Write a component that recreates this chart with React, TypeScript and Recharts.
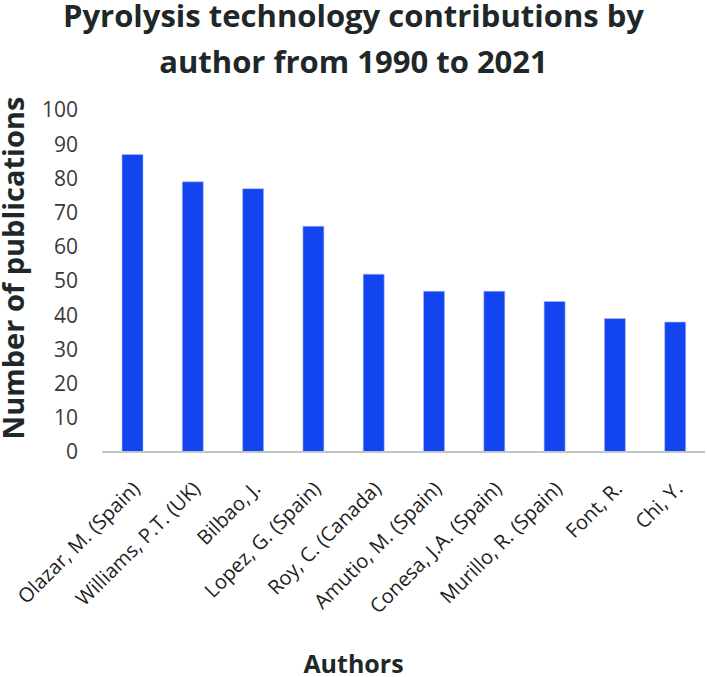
import { Bar, BarChart, XAxis, YAxis } from "recharts";

const authors = [
  "Olazar, M. (Spain)",
  "Williams, P.T. (UK)",
  "Bilbao, J.",
  "Lopez, G. (Spain)",
  "Roy, C. (Canada)",
  "Amutio, M. (Spain)",
  "Conesa, J.A. (Spain)",
  "Murillo, R. (Spain)",
  "Font, R.",
  "Chi, Y.",
];
const publications = [87, 79, 77, 66, 52, 47, 47, 44, 39, 38];
const yTicks = [0, 10, 20, 30, 40, 50, 60, 70, 80, 90, 100];

const FONT = "'Open Sans', sans-serif";

function AuthorTick({ x, y, payload }: any) {
  return (
    <g transform={`translate(${x + 9},${y + 30})`}>
      <text textAnchor="end" transform="rotate(-45)" fill="#222" fontSize={20} fontFamily={FONT}>
        {payload.value}
      </text>
    </g>
  );
}

export default function App() {
  const data = authors.map((author, i) => ({ author, count: publications[i] }));
  const title = { position: "absolute" as const, left: 0, width: 707, textAlign: "center" as const, fontWeight: 700, fontSize: 31, lineHeight: "30px" };
  return (
    <div style={{ position: "absolute", left: 0, top: 0, width: 707, height: 677, background: "#fff", fontFamily: FONT, color: "#1f2828", overflow: "hidden" }}>
      <div style={{ ...title, top: 0 }}>Pyrolysis technology contributions by</div>
      <div style={{ ...title, top: 46 }}>author from 1990 to 2021</div>
      <div style={{ position: "absolute", left: 12.5, top: 268, transform: "translate(-50%, -50%) rotate(-90deg)", whiteSpace: "nowrap", fontWeight: 700, fontSize: 29, lineHeight: "24px" }}>
        Number of publications
      </div>
      <div style={{ position: "absolute", left: 0, top: 652, width: 707, textAlign: "center", fontWeight: 700, fontSize: 25, lineHeight: "22px" }}>Authors</div>
      <BarChart width={707} height={677} data={data} margin={{ top: 110, right: 2, bottom: 0, left: 40 }}>
        <YAxis
          domain={[0, 100]}
          ticks={yTicks}
          interval={0}
          axisLine={false}
          tickLine={false}
          width={62}
          tick={{ fill: "#3a3a3a", fontSize: 21, fontFamily: FONT }}
          tickMargin={18}
        />
        <XAxis
          dataKey="author"
          interval={0}
          tickLine={false}
          axisLine={{ stroke: "#bfc7c5", strokeWidth: 2 }}
          tick={<AuthorTick />}
          height={225}
        />
        <Bar dataKey="count" fill="#1245ef" stroke="#a9bcf5" strokeWidth={0.6} barSize={21} isAnimationActive={false} />
      </BarChart>
    </div>
  );
}
